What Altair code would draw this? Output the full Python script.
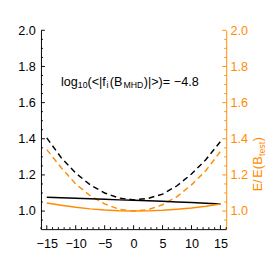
import altair as alt
import pandas as pd

# ---- data ----
xs = [-15, -12.5, -10, -7.5, -5, -2.5, 0, 2.5, 5, 7.5, 10, 12.5, 15]
black_dashed = [1.405, 1.295, 1.210, 1.145, 1.100, 1.072, 1.062, 1.070, 1.094, 1.140, 1.205, 1.285, 1.385]
orange_dashed = [1.340, 1.240, 1.150, 1.085, 1.040, 1.010, 1.000, 1.008, 1.035, 1.080, 1.145, 1.225, 1.330]
black_solid = [1.076, 1.074, 1.071, 1.068, 1.065, 1.062, 1.060, 1.057, 1.054, 1.050, 1.047, 1.043, 1.039]
orange_solid = [1.045, 1.032, 1.021, 1.012, 1.006, 1.002, 1.000, 1.001, 1.004, 1.010, 1.017, 1.027, 1.039]

x_major = [-15, -10, -5, 0, 5, 10, 15]
x_minor = [i for i in range(-16, 17) if i % 5 != 0]
y_major = [1.0, 1.2, 1.4, 1.6, 1.8, 2.0]
y_minor = [round(0.95 + 0.05 * i, 2) for i in range(21) if round(0.95 + 0.05 * i, 2) not in y_major]

ORANGE = "#ff8c00"
FONT = "Liberation Sans"
W, H = 191, 205

xscale = alt.Scale(domain=[-16, 16], nice=False, zero=False)
yscale = alt.Scale(domain=[0.9, 2.0], nice=False, zero=False)


def series(vals, color, dash=None):
    df = pd.DataFrame({"x": xs, "v": vals})
    mk = dict(color=color, strokeWidth=1.5)
    if dash:
        mk["strokeDash"] = dash
    return alt.Chart(df).mark_line(**mk).encode(
        x=alt.X("x:Q", scale=xscale, axis=None),
        y=alt.Y("v:Q", scale=yscale, axis=None),
    )


# axes (labels + domain only; ticks are drawn inward by rules)
axis_df = pd.DataFrame({"x": [0], "v": [1.5]})
left_axis = alt.Chart(axis_df).mark_point(opacity=0).encode(
    x=alt.X("x:Q", scale=xscale, axis=alt.Axis(
        values=x_major, ticks=False, grid=False, domainColor="black", domainWidth=1,
        labelFont=FONT, labelFontSize=13, labelColor="black", labelPadding=9, title=None,
        labelFlush=False)),
    y=alt.Y("v:Q", scale=yscale, axis=alt.Axis(
        values=y_major, ticks=False, grid=False, domainColor="black", domainWidth=1,
        labelFont=FONT, labelFontSize=13, labelColor="black", labelPadding=6, title=None,
        format=".1f", labelFlush=False)),
)
right_axis = alt.Chart(axis_df).mark_point(opacity=0).encode(
    x=alt.X("x:Q", scale=xscale, axis=None),
    y=alt.Y("v:Q", scale=yscale, axis=alt.Axis(
        orient="right", values=y_major, ticks=False, grid=False, domainColor=ORANGE,
        domainWidth=1, labelFont=FONT, labelFontSize=13, labelColor=ORANGE, labelPadding=4,
        title=None, format=".1f", labelFlush=False)),
)


def xticks(vals, length):
    return alt.Chart(pd.DataFrame({"t": vals})).mark_rule(color="black", strokeWidth=1).encode(
        x=alt.X("t:Q", scale=xscale, axis=None), y=alt.value(H), y2=alt.value(H - length))


def yticks(vals, length, color, right=False):
    x0 = W if right else 0
    x1 = W - length if right else length
    return alt.Chart(pd.DataFrame({"t": vals})).mark_rule(color=color, strokeWidth=1).encode(
        y=alt.Y("t:Q", scale=yscale, axis=None), x=alt.value(x0), x2=alt.value(x1))


def txt(s, x, y, size, color="black", angle=0):
    return alt.Chart(pd.DataFrame({"s": [s]})).mark_text(
        align="left", baseline="alphabetic", font=FONT, fontSize=size, color=color, angle=angle
    ).encode(text="s:N", x=alt.value(x), y=alt.value(y))


annot = [
    txt("log", 20.7, 57, 13),
    txt("10", 38, 59.5, 9),
    txt("(<|f", 48, 57, 13),
    txt("i", 67.5, 59.5, 9),
    txt("(B", 71, 57, 13),
    txt("MHD", 85, 59.5, 9),
    txt(")|>)=", 106, 57, 13),
    txt("\u22124.8", 137, 57, 13),
]
rtitle = [
    txt("E/", 228, 166, 13, ORANGE, 270),
    txt("E(", 228, 152, 13, ORANGE, 270),
    txt("B", 228, 138.5, 13, ORANGE, 270),
    txt("test", 231, 129.5, 9, ORANGE, 270),
    txt(")", 228, 114.5, 13, ORANGE, 270),
]

layers = [
    left_axis,
    right_axis,
    xticks(x_major, 4), xticks(x_minor, 2),
    yticks(y_major, 4, "black"), yticks(y_minor, 2, "black"),
    yticks(y_major, 4, ORANGE, True), yticks(y_minor, 2, ORANGE, True),
    series(black_dashed, "black", [6, 4]),
    series(orange_dashed, ORANGE, [6, 4]),
    series(black_solid, "black"),
    series(orange_solid, ORANGE),
] + annot + rtitle

chart = alt.layer(*layers).resolve_axis(y="independent", x="independent").properties(
    width=W, height=H,
    autosize=alt.AutoSizeParams(type="none"),
    padding={"left": 34, "top": 19, "right": 41, "bottom": 34},
    background="white",
).configure_view(stroke=None)

chart.save("out.html", embed_options={"renderer": "svg", "actions": False})
